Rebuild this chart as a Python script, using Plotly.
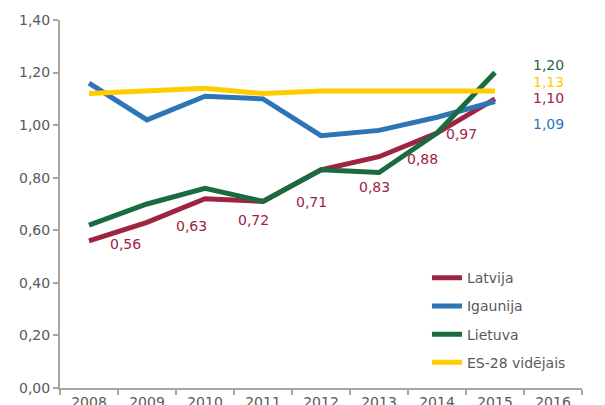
import plotly.graph_objects as go

years = ['2008', '2009', '2010', '2011', '2012', '2013', '2014', '2015', '2016']
latvija = [0.56, 0.63, 0.72, 0.71, 0.83, 0.88, 0.97, 1.10, None]
igaunija = [1.16, 1.02, 1.11, 1.10, 0.96, 0.98, 1.03, 1.09, None]
lietuva = [0.62, 0.70, 0.76, 0.71, 0.83, 0.82, 0.97, 1.20, None]
es28 = [1.12, 1.13, 1.14, 1.12, 1.13, 1.13, 1.13, 1.13, None]

names = ['Latvija', 'Igaunija', 'Lietuva', 'ES-28 vidējais']
colors = ['#9E2440', '#2E75B6', '#1B6B41', '#FFCC00']
series = [latvija, igaunija, lietuva, es28]

FONT = 'DejaVu Sans'
GREY = '#595959'
AXIS = '#A6A6A6'

fig = go.Figure()
for name, vals, col in zip(names, series, colors):
    fig.add_trace(go.Scatter(
        x=years, y=vals, name=name, mode='lines', legendgroup=name,
        line=dict(color=col, width=5),
    ))

# Latvija labels sit below-right of the points, as in the source
label_shift = [(36, -3), (44, -4), (48, -21), (48, -1), (53, -17), (43, -2), (24, -1)]
for i, (v, (dx, dy)) in enumerate(zip(latvija, label_shift)):
    fig.add_annotation(x=i, y=v, text=f'{v:.2f}'.replace('.', ','),
                       xshift=dx, yshift=dy, showarrow=False,
                       font=dict(family=FONT, size=14, color=colors[0]))

# end-of-line labels for 2015
end_labels = [(latvija, colors[0], 1), (igaunija, colors[1], -23),
              (lietuva, colors[2], 8), (es28, colors[3], 9)]
for vals, col, dy in end_labels:
    v = vals[7]
    fig.add_annotation(x=7, y=v, text=f'{v:.2f}'.replace('.', ','),
                       xshift=53, yshift=dy, showarrow=False,
                       font=dict(family=FONT, size=14, color=col))

# page body has an 8px margin, so the figure is shrunk/shifted to fit
fig.update_layout(
    width=597, height=397,
    margin=dict(l=52, r=23, t=12, b=17, autoexpand=False),
    plot_bgcolor='white', paper_bgcolor='white',
    separators=',.',
    font=dict(family=FONT, size=14, color=GREY),
    showlegend=True,
    legend=dict(x=0.703, y=0.342, xanchor='left', yanchor='top',
                bgcolor='rgba(0,0,0,0)', font=dict(size=14, color=GREY),
                tracegroupgap=7),
    xaxis=dict(
        type='category', range=[-0.5, 8.5], tickson='boundaries',
        ticks='outside', ticklen=5, tickcolor=AXIS, tickwidth=2,
        showline=True, linecolor=AXIS, linewidth=2, showgrid=False,
        tickfont=dict(size=14, color=GREY),
    ),
    yaxis=dict(
        range=[0, 1.4], dtick=0.2, tickformat='.2f',
        ticks='outside', ticklen=5, tickcolor=AXIS, tickwidth=2,
        showline=True, linecolor=AXIS, linewidth=2, showgrid=False,
        zeroline=False, tickfont=dict(size=14, color=GREY),
    ),
)

fig.write_html('out.html')
